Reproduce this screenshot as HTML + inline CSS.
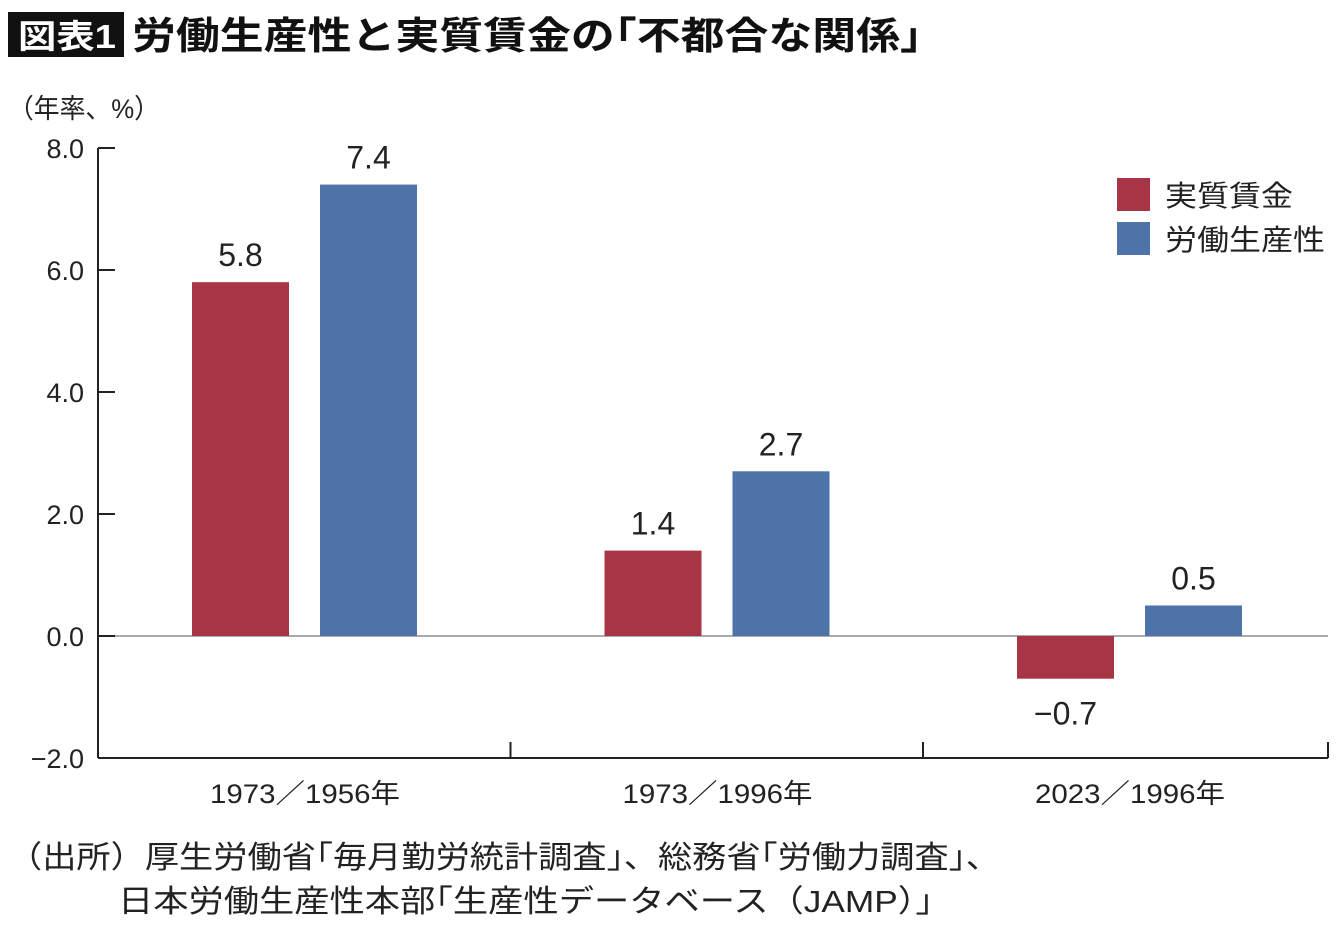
<!DOCTYPE html>
<html><head><meta charset="utf-8"><style>
body{margin:0;width:1340px;height:927px;background:#fff;overflow:hidden;font-family:"Liberation Sans","Noto Sans CJK JP",sans-serif;}
</style></head><body>
<svg width="1340" height="927" xmlns="http://www.w3.org/2000/svg" style="font-family:'Liberation Sans','Noto Sans CJK JP',sans-serif">
<rect x="8" y="12" width="116" height="45" fill="#111"/>
<text x="18" y="48" font-size="33" font-weight="bold" fill="#fff" textLength="98" lengthAdjust="spacingAndGlyphs">図表1</text>
<text x="132" y="49" font-size="38" font-weight="bold" fill="#111" textLength="790" lengthAdjust="spacingAndGlyphs">労働生産性と実質賃金の｢不都合な関係｣</text>
<text x="8" y="118" font-size="27" fill="#222" textLength="152" lengthAdjust="spacingAndGlyphs">（年率、%）</text>
<g id="axes"></g>
<g id="bars"></g>
<rect x="1117" y="178" width="33" height="33" fill="#a83545"/>
<text x="1165" y="206" font-size="29" fill="#222" textLength="128" lengthAdjust="spacingAndGlyphs">実質賃金</text>
<rect x="1117" y="222" width="33" height="33" fill="#4e73a8"/>
<text x="1165" y="250" font-size="29" fill="#222" textLength="160" lengthAdjust="spacingAndGlyphs">労働生産性</text>
<text x="8" y="868" font-size="31" fill="#222" textLength="992" lengthAdjust="spacingAndGlyphs">（出所）厚生労働省｢毎月勤労統計調査｣、総務省｢労働力調査｣、</text>
<text x="118" y="912" font-size="31" fill="#222" textLength="815" lengthAdjust="spacingAndGlyphs">日本労働生産性本部｢生産性データベース（JAMP）｣</text>
</svg>
<script>
const categories=["1973／1956年","1973／1996年","2023／1996年"];
const wage=[5.8,1.4,-0.7];
const productivity=[7.4,2.7,0.5];
const yTicks=[8,6,4,2,0,-2];
const NS="http://www.w3.org/2000/svg";
const y=v=>636-v*61;
const gx=i=>98+i*412.5;
function mk(tag,attrs,parent){const e=document.createElementNS(NS,tag);for(const k in attrs)e.setAttribute(k,attrs[k]);parent.appendChild(e);return e;}
const ax=document.getElementById('axes'),bg=document.getElementById('bars');
let e=mk('line',{x1:98,y1:148,x2:98,y2:758,stroke:'#222','stroke-width':2},ax);


e=mk('line',{x1:98,y1:758,x2:1328,y2:758,stroke:'#222','stroke-width':2},ax);


e=mk('line',{x1:98,y1:y(0),x2:1328,y2:y(0),stroke:'#aaa','stroke-width':2},ax);


yTicks.forEach(t=>{
 let l=mk('line',{x1:98,y1:y(t),x2:115,y2:y(t),stroke:'#222','stroke-width':2},ax);
 
 
 let tx=mk('text',{x:84,y:y(t)+10,'font-size':27,'text-anchor':'end',fill:'#222'},ax);
 tx.textContent=(t<0?'−':'')+Math.abs(t).toFixed(1);
 
 
});
[1,2,3].forEach(i=>{
 const xx=Math.min(gx(i),1328);
 let l=mk('line',{x1:xx,y1:742,x2:xx,y2:758,stroke:'#222','stroke-width':2},ax);
 
 
});
categories.forEach((c,i)=>{
 let tx=mk('text',{x:gx(i)+112,y:803,'font-size':27,fill:'#222',textLength:190,lengthAdjust:'spacingAndGlyphs'},ax);
 tx.textContent=c;
 
 
 [[wage[i],94,'#a83545','bar-wage'],[productivity[i],222,'#4e73a8','bar-productivity']].forEach(([v,off,col,nm])=>{
  const x=gx(i)+off,top=Math.min(y(v),y(0)),h=Math.abs(y(v)-y(0));
  let r=mk('rect',{x:x,y:top,width:97,height:h,fill:col},bg);
  
  
  let lb=mk('text',{x:x+48.5,y:v>=0?y(v)-16:y(v)+46,'font-size':32,'text-anchor':'middle',fill:'#222'},bg);
  lb.textContent=(v<0?'−':'')+Math.abs(v).toFixed(1);
  
  
 });
});
</script>
</body></html>
